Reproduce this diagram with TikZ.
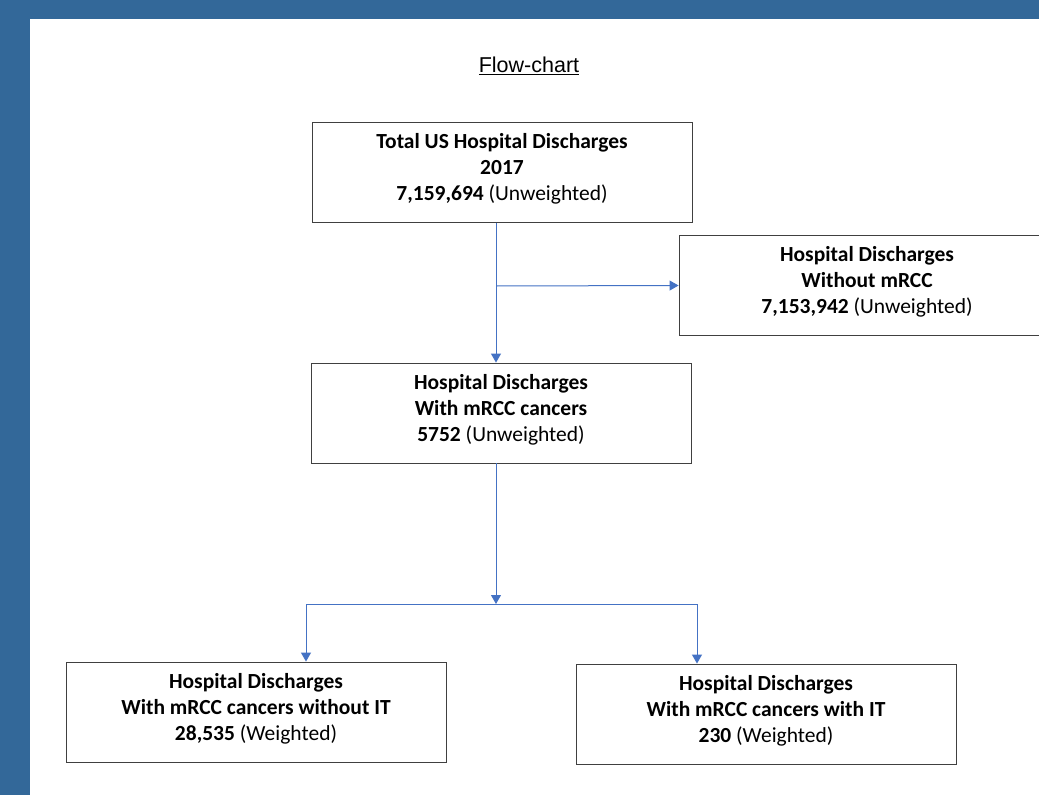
\documentclass[tikz,border=0pt]{standalone}
\usepackage{fontspec}
\setmainfont{Carlito}
\newfontfamily\titlefont{Liberation Sans}
\usetikzlibrary{arrows.meta}
\definecolor{frameblue}{RGB}{51,104,153}
\definecolor{linkblue}{RGB}{68,114,196}
\tikzset{
 box/.style={draw=black!75, line width=0.9pt, fill=white, minimum height=100pt, align=center, inner sep=0pt, text depth=11pt, font=\fontsize{21.5}{26}\selectfont},
 link/.style={linkblue, line width=1pt, -{Triangle[width=10pt,length=9pt]}},
 linkline/.style={linkblue, line width=1pt},
}
\begin{document}
\begin{tikzpicture}[x=1pt, y=-1pt]
\clip (0,0) rectangle (1039,795);
\fill[frameblue] (0,0) rectangle (1039,795);
\fill[white] (30,19) rectangle (1039,795);

\node[font=\titlefont\fontsize{21.5}{24}\selectfont] (title) at (529,66) {\underline{Flow-chart}};

% boxes
\node[box, minimum width=380pt] (total) at (502,172.5) {\textbf{Total US Hospital Discharges}\\\textbf{2017}\\\textbf{7,159,694} (Unweighted)};
\node[box, minimum width=376pt] (without) at (867,285.5) {\textbf{Hospital Discharges}\\\textbf{Without mRCC}\\\textbf{7,153,942} (Unweighted)};
\node[box, minimum width=380pt] (with) at (501,413) {\textbf{Hospital Discharges}\\\textbf{With mRCC cancers}\\\textbf{5752} (Unweighted)};
\node[box, minimum width=380pt] (noit) at (256,712) {\textbf{Hospital Discharges}\\\textbf{With mRCC cancers without IT}\\\textbf{28,535} (Weighted)};
\node[box, minimum width=380pt] (withit) at (766,714) {\textbf{Hospital Discharges}\\\textbf{With mRCC cancers with IT}\\\textbf{230} (Weighted)};

% connectors
\coordinate (forkA) at (496,286);
\coordinate (forkB) at (496,604);
\coordinate (splitL) at (306,604);
\coordinate (splitR) at (697,604);
\draw[link] ([xshift=-6pt]total.south) -- ([xshift=-5pt]with.north);
\draw[link] (forkA) -- (without.west);
\draw[link] ([xshift=-5pt]with.south) -- (forkB);
\draw[linkline] (splitL) -- (splitR);
\draw[link] (splitL) -- (splitL |- noit.north);
\draw[link] (splitR) -- (splitR |- withit.north);
\end{tikzpicture}
\end{document}
